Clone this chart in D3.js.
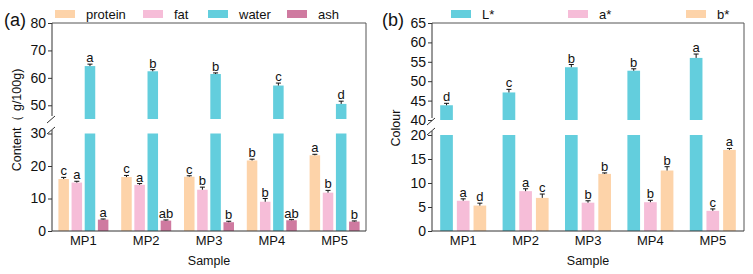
<!DOCTYPE html>
<html lang="en">
<head>
<meta charset="UTF-8">
<title>Content and colour of samples</title>
<style>
  body { margin: 0; background: #fff; }
  svg { display: block; font-family: "Liberation Sans", Arial, sans-serif; }
</style>
</head>
<body>
<svg id="chart" width="753" height="274"></svg>
<script src="https://d3js.org/d3.v7.min.js"></script>
<script>
// ---- data ----
const samples = ["MP1", "MP2", "MP3", "MP4", "MP5"];

// panel (a) content, g/100g
const contentSeries = ["protein", "fat", "water", "ash"];
const protein    = [16.0, 16.6, 16.7, 21.7, 23.3];
const proteinErr = [0.5, 0.5, 0.3, 0.4, 0.3];
const proteinSig = ["c", "c", "c", "b", "a"];
const fat        = [14.9, 14.2, 12.7, 9.0, 11.8];
const fatErr     = [0.4, 0.4, 0.8, 1.0, 0.7];
const fatSig     = ["a", "a", "b", "b", "b"];
const water      = [64.3, 62.4, 61.4, 57.2, 50.5];
const waterErr   = [0.7, 0.6, 0.4, 0.9, 1.0];
const waterSig   = ["a", "b", "b", "c", "d"];
const ash        = [3.5, 3.2, 2.7, 3.3, 2.9];
const ashErr     = [0.2, 0.2, 0.3, 0.2, 0.2];
const ashSig     = ["a", "ab", "b", "ab", "b"];

// panel (b) colour
const colourSeries = ["L*", "a*", "b*"];
const lStar    = [43.8, 47.1, 53.6, 52.7, 56.0];
const lStarErr = [0.5, 0.8, 0.7, 0.5, 1.0];
const lStarSig = ["d", "c", "b", "b", "a"];
const aStar    = [6.3, 8.3, 5.9, 6.0, 4.2];
const aStarErr = [0.4, 0.5, 0.4, 0.4, 0.4];
const aStarSig = ["a", "a", "b", "b", "c"];
const bStar    = [5.3, 6.9, 11.9, 12.6, 16.9];
const bStarErr = [0.5, 0.8, 0.2, 0.8, 0.3];
const bStarSig = ["d", "c", "b", "b", "a"];

// axis ticks
const aTicksLow = [0, 10, 20, 30], aTicksHigh = [50, 60, 70, 80];
const bTicksLow = [0, 5, 10, 15, 20], bTicksHigh = [40, 45, 50, 55, 60, 65];

const colors = {
  protein: "#fdd3a9", fat: "#f6bdd8", water: "#63cedd", ash: "#cf7aa0",
  "L*": "#63cedd", "a*": "#f6bdd8", "b*": "#fdd3a9"
};

const svg = d3.select("#chart");
const axisColor = "#333";
const fontFam = "Liberation Sans, Arial, sans-serif";

function panel(opt) {
  const g = svg.append("g");
  const x0 = d3.scaleBand().domain(samples).range([opt.left, opt.right]);
  const x1 = d3.scaleBand().domain(opt.series.map(s => s.name))
    .range([0, opt.groupW]).paddingInner(opt.inner);
  const yLow = d3.scaleLinear().domain(opt.lowDomain).range([opt.bottom, opt.lowTop]);
  const yHigh = d3.scaleLinear().domain(opt.highDomain).range([opt.highBottom, opt.top]);
  const yOf = v => v > opt.lowDomain[1] ? yHigh(v) : yLow(v);

  // bars
  opt.series.forEach(s => {
    s.values.forEach((v, i) => {
      const bx = x0(samples[i]) + (x0.bandwidth() - opt.groupW) / 2 + x1(s.name);
      const bw = x1.bandwidth();
      const col = colors[s.name];
      if (v > opt.lowDomain[1]) {
        g.append("rect").attr("x", bx).attr("width", bw)
          .attr("y", yLow(opt.lowDomain[1])).attr("height", opt.bottom - yLow(opt.lowDomain[1]))
          .attr("fill", col);
        g.append("rect").attr("x", bx).attr("width", bw)
          .attr("y", yHigh(v)).attr("height", opt.highBottom - yHigh(v))
          .attr("fill", col);
      } else {
        g.append("rect").attr("x", bx).attr("width", bw)
          .attr("y", yLow(v)).attr("height", opt.bottom - yLow(v))
          .attr("fill", col);
      }
      // error bar (upper only)
      const cx = bx + bw / 2;
      const yTop = yOf(v + s.err[i]);
      g.append("line").attr("x1", cx).attr("x2", cx)
        .attr("y1", yOf(v)).attr("y2", yTop).attr("stroke", "#111").attr("stroke-width", 1);
      g.append("line").attr("x1", cx - 2.5).attr("x2", cx + 2.5)
        .attr("y1", yTop).attr("y2", yTop).attr("stroke", "#111").attr("stroke-width", 1);
      g.append("text").attr("x", cx).attr("y", yTop - 2)
        .attr("text-anchor", "middle").attr("font-size", 13).attr("fill", "#111")
        .text(s.sig[i]);
    });
  });

  // frame: top and right
  g.append("path")
    .attr("d", `M${opt.left},${opt.top}H${opt.right}V${opt.bottom}`)
    .attr("fill", "none").attr("stroke", "#555").attr("stroke-width", 1);

  // x axis
  const xAxis = g.append("g").attr("transform", `translate(0,${opt.bottom})`)
    .call(d3.axisBottom(x0).tickSize(0).tickPadding(5));
  xAxis.select(".domain").attr("stroke", axisColor).attr("d", `M${opt.left},0H${opt.right}`);
  xAxis.selectAll("text").attr("font-size", 13).attr("fill", "#111").attr("font-family", fontFam);

  // y axis, two segments
  const yl = g.append("g").attr("transform", `translate(${opt.left},0)`)
    .call(d3.axisLeft(yLow).tickValues(opt.lowTicks).tickSize(4).tickPadding(2).tickFormat(d3.format("d")));
  yl.select(".domain").attr("d", `M0,${opt.bottom}V${opt.lowAxisTop}`);
  const yh = g.append("g").attr("transform", `translate(${opt.left},0)`)
    .call(d3.axisLeft(yHigh).tickValues(opt.highTicks).tickSize(4).tickPadding(2).tickFormat(d3.format("d")));
  yh.select(".domain").attr("d", `M0,${opt.top}V${opt.highAxisBottom}`);
  [yl, yh].forEach(a => {
    a.selectAll(".domain, line").attr("stroke", axisColor);
    a.selectAll("text").attr("font-size", 14).attr("fill", "#111").attr("font-family", fontFam);
  });
  // break marks
  [opt.highAxisBottom + 4, opt.lowAxisTop + 1].forEach(yy => {
    g.append("line").attr("x1", opt.left - 5).attr("x2", opt.left + 3)
      .attr("y1", yy + 3).attr("y2", yy - 4).attr("stroke", axisColor);
  });

  // axis titles
  g.append("text").attr("x", (opt.left + opt.right) / 2).attr("y", 265)
    .attr("text-anchor", "middle").attr("font-size", 12.5).attr("fill", "#111").text("Sample");
  g.append("text")
    .attr("transform", `translate(${opt.yTitleX},${opt.yTitleY}) rotate(-90)`)
    .attr("text-anchor", "middle").attr("font-size", 12.5).attr("fill", "#111").text(opt.yTitle);
  g.append("text").attr("x", opt.tagX).attr("y", 26).attr("font-size", 18).attr("fill", "#111").text(opt.tag);

  // legend
  opt.series.forEach((s, i) => {
    const lx = opt.legendX[i];
    g.append("rect").attr("x", lx).attr("y", 10).attr("width", 20).attr("height", 8)
      .attr("fill", colors[s.name]);
    g.append("text").attr("x", lx + opt.legendGap).attr("y", 19)
      .attr("font-size", 13).attr("fill", "#111").text(s.name);
  });
}

panel({
  left: 52, right: 366, top: 23, bottom: 231,
  lowDomain: [0, 30], lowTop: 133.5, highDomain: [45, 80], highBottom: 119,
  lowAxisTop: 130, highAxisBottom: 116,
  lowTicks: aTicksLow, highTicks: aTicksHigh,
  groupW: 50, inner: 0.2,
  series: [
    { name: "protein", values: protein, err: proteinErr, sig: proteinSig },
    { name: "fat", values: fat, err: fatErr, sig: fatSig },
    { name: "water", values: water, err: waterErr, sig: waterSig },
    { name: "ash", values: ash, err: ashErr, sig: ashSig }
  ],
  yTitle: "Content（ g/100g)", yTitleX: 21, yTitleY: 120,
  tag: "(a)", tagX: 4,
  legendX: [55, 143, 208, 287], legendGap: 31
});

panel({
  left: 432, right: 744, top: 23, bottom: 231,
  lowDomain: [0, 20], lowTop: 135, highDomain: [40, 65], highBottom: 120,
  lowAxisTop: 131, highAxisBottom: 118,
  lowTicks: bTicksLow, highTicks: bTicksHigh,
  groupW: 46, inner: 0.24,
  series: [
    { name: "L*", values: lStar, err: lStarErr, sig: lStarSig },
    { name: "a*", values: aStar, err: aStarErr, sig: aStarSig },
    { name: "b*", values: bStar, err: bStarErr, sig: bStarSig }
  ],
  yTitle: "Colour", yTitleX: 400, yTitleY: 128,
  tag: "(b)", tagX: 382,
  legendX: [451, 568, 686], legendGap: 31
});
</script>
</body>
</html>
